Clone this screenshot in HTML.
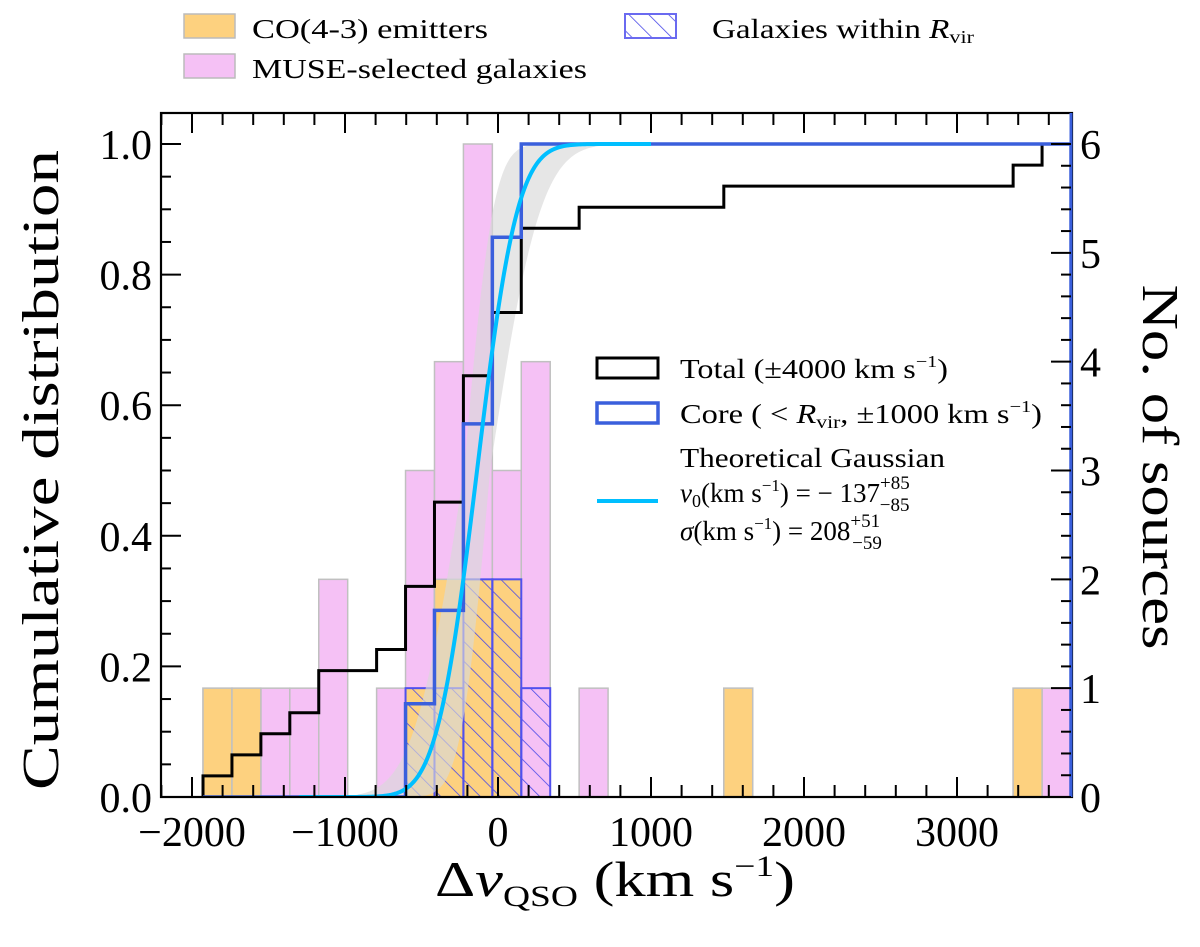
<!DOCTYPE html>
<html><head><meta charset="utf-8"><style>
html,body{margin:0;padding:0;background:#fff;}
svg{display:block;font-family:"Liberation Serif","DejaVu Serif",serif;}
</style></head><body>
<svg id="chart" width="1200" height="947" viewBox="0 0 1200 947">
<defs>
<pattern id="hatch" patternUnits="userSpaceOnUse" width="14" height="14" patternTransform="rotate(-45)">
<line x1="0" y1="0" x2="0" y2="14" stroke="#4a4ae8" stroke-width="1.6"/>
</pattern>
<clipPath id="plotclip"><rect x="161" y="113" width="911" height="685"/></clipPath>
</defs>
<g id="bars" clip-path="url(#plotclip)"></g>
<g id="band" clip-path="url(#plotclip)"></g>
<g id="lines" clip-path="url(#plotclip)"></g>
<rect x="161" y="113" width="911" height="684" fill="none" stroke="#000" stroke-width="2.2"/>
<line x1="1071" y1="113" x2="1071" y2="797" stroke="#3a5fdc" stroke-width="3"/>
<g id="ticks"></g>
<g id="ticklabels" font-size="42"></g>
<text x="435" y="896" font-size="50" textLength="360" lengthAdjust="spacingAndGlyphs">Δ<tspan font-style="italic">v</tspan><tspan font-size="30" dy="10">QSO</tspan><tspan dy="-10"> (km s</tspan><tspan font-size="30" dy="-20">−1</tspan><tspan dy="20">)</tspan></text>
<text transform="translate(58,470) rotate(-90)" font-size="52" text-anchor="middle" textLength="640" lengthAdjust="spacingAndGlyphs">Cumulative distribution</text>
<text transform="translate(1143,467) rotate(90)" font-size="52" text-anchor="middle" textLength="365" lengthAdjust="spacingAndGlyphs">No. of sources</text>
<g font-size="27">
<rect x="184" y="14" width="51" height="24" fill="#fdd17f" stroke="#bbb" stroke-width="1.5"/>
<text x="252" y="38" textLength="236" lengthAdjust="spacingAndGlyphs">CO(4-3) emitters</text>
<rect x="184" y="54" width="51" height="24" fill="#f5c1f5" stroke="#bbb" stroke-width="1.5"/>
<text x="252" y="78" textLength="335" lengthAdjust="spacingAndGlyphs">MUSE-selected galaxies</text>
<rect x="625" y="14" width="51" height="24" fill="url(#hatch)" stroke="#6a6af0" stroke-width="2"/>
<text x="712" y="38" textLength="262" lengthAdjust="spacingAndGlyphs">Galaxies within <tspan font-style="italic">R</tspan><tspan font-size="18" dy="5">vir</tspan></text>
</g>
<g font-size="27">
<rect x="597" y="358" width="61" height="20" fill="none" stroke="#000" stroke-width="3"/>
<text x="680" y="378" textLength="268" lengthAdjust="spacingAndGlyphs">Total (±4000 km s<tspan font-size="17" dy="-11">−1</tspan><tspan dy="11">)</tspan></text>
<rect x="597" y="403" width="61" height="20" fill="none" stroke="#3a5fdc" stroke-width="3.5"/>
<text x="680" y="423" textLength="362" lengthAdjust="spacingAndGlyphs">Core ( &lt; <tspan font-style="italic">R</tspan><tspan font-size="18" dy="5">vir</tspan><tspan dy="-5">,  ±1000 km s</tspan><tspan font-size="17" dy="-11">−1</tspan><tspan dy="11">)</tspan></text>
<text x="680" y="467" textLength="265" lengthAdjust="spacingAndGlyphs">Theoretical Gaussian</text>
<line x1="597" y1="501" x2="658" y2="501" stroke="#00bfff" stroke-width="4"/>
<text x="680" y="502"><tspan font-style="italic">v</tspan><tspan font-size="18" dy="5">0</tspan><tspan dy="-5">(km s</tspan><tspan font-size="17" dy="-11">−1</tspan><tspan dy="11">) = − 137</tspan><tspan font-size="19" dy="-13">+85</tspan><tspan font-size="19" dx="-30" dy="22">−85</tspan></text>
<text x="680" y="540"><tspan font-style="italic">σ</tspan>(km s<tspan font-size="17" dy="-11">−1</tspan><tspan dy="11">) = 208</tspan><tspan font-size="19" dy="-13">+51</tspan><tspan font-size="19" dx="-28" dy="22">−59</tspan></text>
</g>
</svg>
<script>
// data
const binStart = -1928;
const binWidth = 189;
const allCounts = [1,1,1,1,2,0,1,3,4,6,3,4,0,1,0,0,0,0,1,0,0,0,0,0,0,0,0,0,1,1];
const coCounts  = [1,1,0,0,0,0,0,1,2,2,2,0,0,0,0,0,0,0,1,0,0,0,0,0,0,0,0,0,1,0];
const coreCounts= [0,0,0,0,0,0,0,1,1,2,2,1,0,0,0,0,0,0,0,0,0,0,0,0,0,0,0,0,0,0];
const gaussMu = -137, gaussSigma = 208;
const muErr = [85,85], sigErr = [59,51];
const xTicks = [-2000,-1000,0,1000,2000,3000];
const xTickLabels = ["−2000","−1000","0","1000","2000","3000"];
const yTicks = [0,0.2,0.4,0.6,0.8,1.0];
const yTickLabels = ["0.0","0.2","0.4","0.6","0.8","1.0"];
const cTicks = [0,1,2,3,4,5,6];

const NS="http://www.w3.org/2000/svg";
const xs = v => 498 + v*0.153;
const ys = f => 797 - f*653;
const yc = c => 797 - c*653/6;
function mk(tag, attrs, parent){const e=document.createElementNS(NS,tag);for(const k in attrs)e.setAttribute(k,attrs[k]);parent.appendChild(e);return e;}
const bars=document.getElementById('bars'), lines=document.getElementById('lines'), band=document.getElementById('band');
const ticks=document.getElementById('ticks'), tl=document.getElementById('ticklabels');
const nb = allCounts.length;
const x0 = xs(binStart), x1 = 1071;
const edge = i => x0 + i*(x1-x0)/nb;

allCounts.forEach((c,i)=>{ if(!c) return;
  const r=mk('rect',{x:edge(i),y:yc(c),width:edge(i+1)-edge(i),height:797-yc(c),fill:'#f5c1f5',stroke:'#c0c0c0','stroke-width':1.5},bars);
  
  
});
coCounts.forEach((c,i)=>{ if(!c) return;
  const r=mk('rect',{x:edge(i),y:yc(c),width:edge(i+1)-edge(i),height:797-yc(c),fill:'#fdd17f',stroke:'#c0c0c0','stroke-width':1.5},bars);
  
  
});
coreCounts.forEach((c,i)=>{ if(!c) return;
  const r=mk('rect',{x:edge(i),y:yc(c),width:edge(i+1)-edge(i),height:797-yc(c),fill:'url(#hatch)',stroke:'#5050ee','stroke-width':2},bars);
  
  
});

function erf(x){const s=Math.sign(x);x=Math.abs(x);const t=1/(1+0.3275911*x);
 const y=1-(((((1.061405429*t-1.453152027)*t)+1.421413741)*t-0.284496736)*t+0.254829592)*t*Math.exp(-x*x);return s*y;}
const cdf=(v,m,s)=>0.5*(1+erf((v-m)/(s*Math.SQRT2)));
let lo=[],hi=[],mid=[];
for(let v=-1300; v<=1000; v+=10){
  let vals=[];
  [gaussMu-muErr[0],gaussMu+muErr[1]].forEach(m=>[gaussSigma-sigErr[0],gaussSigma+sigErr[1]].forEach(s=>vals.push(cdf(v,m,s))));
  lo.push([xs(v),ys(Math.min(...vals))]); hi.push([xs(v),ys(Math.max(...vals))]); mid.push([xs(v),ys(cdf(v,gaussMu,gaussSigma))]);
}
const bp=mk('path',{d:'M'+hi.map(p=>p.join(',')).join('L')+'L'+lo.reverse().map(p=>p.join(',')).join('L')+'Z',fill:'#d8d8d8','fill-opacity':0.65},band);



function cumPath(counts){
  const tot=counts.reduce((a,b)=>a+b,0);let cum=0;let d='M'+edge(0)+','+ys(0);
  counts.forEach((c,i)=>{const prev=cum/tot;cum+=c;const f=cum/tot;d+='L'+edge(i)+','+ys(prev)+'L'+edge(i)+','+ys(f)+'L'+edge(i+1)+','+ys(f);});
  d+='L'+edge(counts.length)+','+ys(0);return d;
}
const tp=mk('path',{d:cumPath(allCounts),fill:'none',stroke:'#000','stroke-width':3},lines);


const cp=mk('path',{d:cumPath(coreCounts),fill:'none',stroke:'#3a5fdc','stroke-width':3.5},lines);


const gp=mk('path',{d:'M'+mid.map(p=>p.join(',')).join('L'),fill:'none',stroke:'#00bfff','stroke-width':4},lines);



for(let v=-2200; v<=3700; v+=200){
  const big = v%1000===0; const L=big?20:12; const x=xs(v);
  mk('line',{x1:x,y1:797,x2:x,y2:797-L,stroke:'#000','stroke-width':2},ticks);
  mk('line',{x1:x,y1:113,x2:x,y2:113+L,stroke:'#000','stroke-width':2},ticks);
}
for(let f=0; f<=1.01; f+=0.05){
  const big=Math.abs(f*5-Math.round(f*5))<1e-6; const y=ys(f);
  mk('line',{x1:161,y1:y,x2:161+(big?20:10),y2:y,stroke:'#000','stroke-width':2},ticks);
}
for(let c=0;c<=6.01;c+=0.2){
  const big=Math.abs(c-Math.round(c))<1e-6; const y=yc(c);
  mk('line',{x1:1071,y1:y,x2:1071-(big?20:10),y2:y,stroke:'#000','stroke-width':2},ticks);
}
xTicks.forEach((v,i)=>{const t=mk('text',{x:xs(v),y:846,'text-anchor':'middle'},tl);t.textContent=xTickLabels[i];
  
  });
yTicks.forEach((f,i)=>{const t=mk('text',{x:152,y:ys(f)+15,'text-anchor':'end'},tl);t.textContent=yTickLabels[i];
  
  });
cTicks.forEach(c=>{const t=mk('text',{x:1080,y:yc(c)+15},tl);t.textContent=String(c);
  
  });
</script>
</body></html>
